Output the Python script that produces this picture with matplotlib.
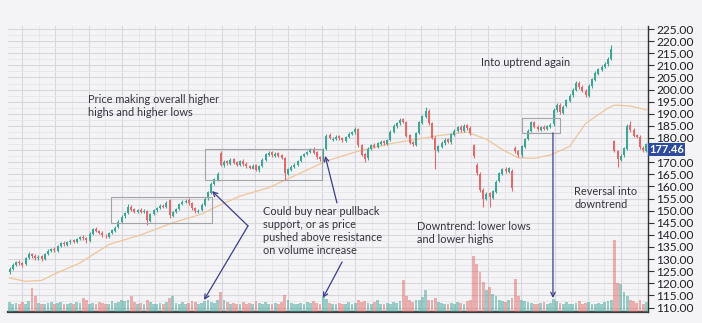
import numpy as np
import matplotlib
matplotlib.use("Agg")
import matplotlib.pyplot as plt
from matplotlib.patches import Rectangle
from matplotlib.ticker import FuncFormatter

# Daily OHLC prices
opens = [
    124.6, 126.0, 127.4, 128.9, 128.3, 127.8, 130.4, 132.1, 131.3, 130.3,
    131.2, 130.1, 132.3, 133.4, 134.2, 133.5, 135.3, 136.7, 136.0, 136.9,
    137.7, 137.1, 138.2, 139.2, 138.8, 137.6, 140.4, 142.5, 141.7, 140.9,
    139.7, 139.3, 140.7, 141.7, 143.1, 145.4, 147.6, 148.9, 151.6, 150.5,
    149.5, 150.3, 149.5, 150.0, 145.8, 148.6, 150.1, 151.1, 152.1, 151.5,
    154.2, 147.8, 149.4, 150.6, 152.7, 153.5, 154.6, 153.1, 151.2, 149.6,
    150.1, 152.4, 155.1, 157.4, 161.1, 162.8, 174.0, 168.8, 170.4, 169.4,
    171.2, 170.0, 168.8, 170.6, 169.4, 168.5, 167.4, 168.8, 166.6, 168.4,
    170.9, 173.0, 174.2, 172.6, 173.7, 172.8, 171.6, 165.3, 166.9, 168.1,
    168.9, 170.3, 172.5, 173.3, 174.1, 175.6, 174.2, 172.2, 171.0, 175.4,
    181.2, 179.2, 179.5, 180.8, 180.0, 178.8, 180.3, 181.6, 182.3, 183.8,
    177.2, 173.4, 171.6, 175.4, 177.2, 176.2, 177.6, 178.7, 177.6, 179.2,
    182.4, 184.8, 186.0, 187.8, 186.6, 181.2, 178.2, 177.2, 182.2, 186.3,
    188.8, 191.2, 186.2, 180.2, 174.8, 176.3, 177.8, 179.4, 178.2, 181.4,
    182.8, 184.7, 183.0, 185.2, 184.2, 177.0, 169.0, 165.2, 158.6, 154.8,
    157.2, 155.3, 157.8, 162.2, 165.3, 167.2, 166.0, 166.5, 176.0, 174.6,
    172.8, 176.3, 179.6, 182.8, 186.6, 184.7, 183.4, 184.6, 183.6, 184.6,
    185.6, 191.4, 193.8, 190.4, 193.2, 195.3, 197.6, 199.8, 202.8, 201.2,
    199.6, 197.4, 201.3, 204.0, 206.6, 208.2, 209.3, 210.4, 212.6, 178.6,
    174.6, 171.0, 172.8, 175.6, 185.4, 183.4, 181.2, 180.6, 176.0, 174.8,
]
highs = [
    126.6, 128.2, 129.4, 129.6, 128.8, 131.0, 132.8, 132.6, 131.9, 131.6,
    131.8, 132.7, 134.0, 134.7, 134.8, 135.8, 137.1, 137.3, 137.6, 138.2,
    138.3, 138.9, 139.7, 139.8, 139.3, 141.0, 143.0, 143.1, 142.2, 141.4,
    140.3, 141.1, 142.3, 143.6, 146.1, 148.0, 149.6, 152.6, 152.3, 151.0,
    150.8, 150.9, 150.5, 150.4, 149.0, 150.8, 151.7, 152.6, 152.8, 153.9,
    154.8, 150.0, 151.1, 153.3, 154.2, 154.8, 155.2, 153.6, 151.7, 150.7,
    153.0, 155.6, 158.1, 161.7, 163.6, 165.8, 174.8, 170.8, 171.0, 171.7,
    171.8, 170.5, 171.0, 171.2, 169.9, 169.0, 169.2, 169.3, 169.0, 171.6,
    173.8, 174.7, 174.8, 174.1, 174.2, 173.3, 172.0, 167.6, 168.8, 169.6,
    171.0, 173.1, 174.0, 174.8, 176.0, 176.2, 174.7, 172.7, 175.8, 181.8,
    181.9, 180.3, 181.2, 181.4, 180.5, 181.0, 182.4, 183.0, 184.4, 184.3,
    177.7, 174.0, 176.1, 177.6, 177.8, 178.4, 179.1, 179.2, 179.6, 183.1,
    185.6, 186.8, 188.3, 188.4, 187.1, 181.7, 178.8, 182.6, 187.1, 189.7,
    193.0, 191.8, 186.7, 180.7, 177.1, 178.6, 179.8, 180.0, 182.1, 183.6,
    185.1, 185.3, 185.6, 185.8, 184.8, 177.6, 169.6, 165.8, 159.2, 157.6,
    157.8, 158.6, 162.6, 166.1, 167.8, 167.9, 168.2, 167.0, 176.6, 175.2,
    177.1, 180.1, 183.6, 187.2, 187.2, 185.3, 185.0, 185.2, 185.4, 186.1,
    192.2, 194.3, 194.4, 193.7, 196.2, 198.2, 200.7, 203.4, 203.4, 201.8,
    200.2, 202.1, 204.9, 207.5, 209.1, 210.1, 211.3, 213.5, 218.4, 179.3,
    175.2, 173.3, 176.4, 185.7, 187.0, 184.0, 181.8, 181.1, 176.6, 178.0,
]
lows = [
    124.0, 125.6, 127.0, 127.6, 126.9, 127.4, 130.0, 130.6, 129.8, 129.7,
    129.4, 129.8, 131.8, 133.0, 133.0, 133.1, 134.8, 135.5, 135.6, 136.4,
    136.7, 136.8, 137.8, 138.0, 136.5, 137.2, 140.0, 141.0, 140.2, 139.2,
    138.6, 138.8, 140.3, 141.2, 142.7, 145.0, 147.1, 148.5, 149.8, 149.0,
    149.0, 149.1, 149.0, 144.0, 145.3, 148.1, 149.6, 150.6, 151.0, 151.0,
    147.0, 147.2, 148.9, 150.2, 152.2, 153.0, 152.5, 150.4, 149.2, 149.0,
    149.7, 152.0, 154.6, 157.0, 160.6, 162.3, 168.4, 168.2, 168.9, 169.0,
    169.2, 168.3, 168.3, 168.6, 167.8, 167.0, 167.0, 166.2, 166.1, 168.0,
    170.4, 172.5, 172.2, 172.1, 172.0, 171.2, 162.6, 164.8, 166.4, 167.6,
    168.4, 169.9, 172.0, 172.8, 173.6, 173.4, 171.4, 170.6, 170.6, 175.0,
    179.4, 178.7, 179.0, 179.2, 178.4, 178.3, 179.8, 181.1, 181.8, 176.4,
    172.4, 170.2, 171.1, 175.0, 175.8, 175.7, 177.1, 177.2, 177.1, 178.8,
    182.0, 184.3, 185.5, 186.2, 180.4, 177.4, 176.6, 176.8, 181.7, 185.8,
    188.3, 185.4, 179.4, 167.0, 174.2, 175.8, 177.3, 177.8, 177.7, 180.9,
    182.3, 182.6, 182.5, 183.4, 181.4, 171.8, 164.8, 157.8, 151.5, 154.2,
    151.5, 154.8, 157.3, 161.7, 164.8, 165.6, 165.5, 158.0, 173.8, 172.3,
    172.2, 175.8, 179.1, 182.3, 184.0, 183.0, 182.9, 183.2, 183.1, 184.1,
    185.1, 190.9, 190.0, 189.9, 192.7, 194.8, 197.1, 199.3, 200.4, 198.8,
    196.9, 196.9, 200.8, 203.5, 206.1, 207.7, 208.8, 209.9, 212.1, 174.1,
    168.0, 170.4, 172.3, 175.1, 182.6, 180.4, 179.8, 175.6, 174.4, 174.2,
]
closes = [
    126.0, 127.5, 128.8, 128.2, 127.6, 130.5, 132.0, 131.2, 130.4, 131.0,
    130.2, 132.2, 133.5, 134.0, 133.6, 135.2, 136.5, 136.1, 137.0, 137.6,
    137.2, 138.3, 139.0, 138.6, 137.8, 140.5, 142.4, 141.6, 140.8, 139.8,
    139.4, 140.6, 141.8, 143.0, 145.5, 147.5, 149.0, 151.5, 150.4, 149.6,
    150.2, 149.6, 149.9, 146.0, 148.5, 150.2, 151.0, 152.0, 151.6, 153.2,
    148.0, 149.5, 150.5, 152.8, 153.6, 154.0, 153.0, 151.0, 149.8, 150.0,
    152.5, 155.0, 157.5, 161.0, 163.0, 165.0, 169.0, 170.2, 169.5, 171.0,
    169.8, 169.0, 170.4, 169.2, 168.4, 167.6, 168.6, 166.8, 168.5, 171.0,
    173.2, 174.0, 172.8, 173.5, 172.6, 171.8, 165.5, 167.0, 168.2, 169.0,
    170.4, 172.6, 173.4, 174.2, 175.4, 174.0, 172.0, 171.2, 175.2, 181.0,
    180.0, 179.6, 180.6, 179.8, 179.0, 180.4, 181.8, 182.4, 183.6, 177.0,
    173.0, 171.5, 175.5, 177.0, 176.4, 177.8, 178.5, 177.8, 179.0, 182.5,
    185.0, 186.2, 187.6, 186.8, 181.0, 178.0, 177.4, 182.0, 186.5, 189.0,
    191.0, 186.0, 180.0, 175.0, 176.5, 178.0, 179.2, 178.4, 181.5, 183.0,
    184.5, 183.2, 185.0, 184.0, 182.0, 172.5, 165.5, 158.5, 155.0, 157.0,
    155.5, 158.0, 162.0, 165.5, 167.0, 166.2, 167.5, 159.5, 174.5, 173.0,
    176.5, 179.5, 183.0, 186.5, 184.6, 183.6, 184.4, 183.8, 184.8, 185.4,
    191.6, 193.6, 190.6, 193.0, 195.5, 197.5, 200.0, 202.6, 201.0, 199.4,
    197.6, 201.5, 204.2, 206.8, 208.4, 209.4, 210.6, 212.8, 216.8, 174.8,
    171.2, 172.6, 175.8, 185.0, 183.2, 181.0, 180.4, 176.2, 175.0, 177.46,
]
# Daily volume (millions of shares)
volumes = [
    25, 20, 22, 18, 24, 20, 26, 58, 38, 22,
    20, 18, 22, 24, 19, 21, 25, 20, 18, 22,
    20, 24, 22, 34, 28, 20, 22, 19, 24, 21,
    18, 20, 26, 22, 24, 30, 26, 28, 38, 24,
    20, 22, 19, 30, 24, 20, 18, 22, 20, 24,
    34, 38, 22, 20, 24, 18, 22, 26, 24, 20,
    22, 26, 30, 24, 22, 28, 50, 30, 24, 20,
    22, 18, 20, 24, 20, 22, 18, 26, 22, 20,
    24, 20, 18, 22, 20, 24, 42, 30, 22, 20,
    18, 22, 20, 24, 22, 26, 22, 20, 38, 32,
    22, 18, 20, 22, 18, 20, 24, 20, 22, 30,
    24, 26, 22, 20, 24, 28, 18, 20, 22, 20,
    24, 22, 26, 78, 40, 30, 24, 28, 30, 36,
    55, 30, 28, 35, 24, 22, 20, 18, 22, 20,
    24, 22, 20, 26, 30, 138, 120, 100, 75, 55,
    62, 45, 38, 30, 26, 24, 28, 34, 82, 40,
    30, 26, 24, 22, 20, 18, 22, 24, 20, 22,
    32, 26, 22, 20, 24, 20, 18, 22, 26, 20,
    22, 24, 20, 18, 22, 20, 24, 26, 30, 180,
    72, 68, 50, 40, 30, 26, 22, 28, 20, 24,
]
# Long moving average (session index, value)
ma_idx = [0, 5, 10, 14, 22, 31, 41, 51, 60, 66, 72, 81, 99, 109, 120,
          128, 134, 143, 149, 154, 159, 164, 169, 175, 180, 187, 189, 194, 199]
ma_vals = [122.2, 120.8, 121.2, 123.8, 128.4, 136.0, 140.0, 145.0, 148.6, 152.5,
           156.0, 159.5, 170.5, 174.6, 177.9, 179.6, 181.0, 182.4, 179.5, 175.2,
           171.8, 171.6, 173.0, 176.5, 186.0, 192.4, 193.6, 193.2, 191.6]
price_ticks = list(range(110, 230, 5))

UP, DOWN = "#3fa597", "#e26a6a"
BG = "#f4f4f6"
GRID_MAJOR, GRID_MINOR = "#d7d7dd", "#e5e5ea"
INK = "#34343f"
ARROW = "#3a3d8c"
BOX = "#a3a3aa"
FONT = ["Lato", "DejaVu Sans"]

o, h, l, c = (np.asarray(a, float) for a in (opens, highs, lows, closes))
n = len(c)
x = np.arange(n)
col = np.where(c >= o, UP, DOWN)

fig = plt.figure(figsize=(7.02, 3.23), dpi=100, facecolor=BG)
W, H = 702, 323
ax = fig.add_axes([8 / W, 1 - 311.5 / H, 640 / W, (311.5 - 26) / H])
ax.set_facecolor(BG)

# grid
ax.set_xticks(np.arange(3.9, n, 10.4))
ax.set_xticks(np.arange(9.1, n, 10.4), minor=True)
ax.set_yticks(price_ticks)
ax.set_yticks([p + 2.5 for p in price_ticks], minor=True)
ax.grid(True, which="major", color=GRID_MAJOR, lw=0.8, zorder=0)
ax.grid(True, which="minor", color=GRID_MINOR, lw=0.6, zorder=0)
ax.set_axisbelow(True)

# candles
ax.vlines(x, l, h, colors=col, lw=0.8, zorder=3)
ax.bar(x, np.maximum(np.abs(c - o), 0.2), bottom=np.minimum(o, c), width=0.62,
       color=col, linewidth=0, zorder=3)

# moving average
ax.plot(ma_idx, ma_vals, color="#efc59c", lw=0.9, zorder=2)

ax.set_xlim(-0.5, n - 0.5)
ax.set_ylim(108.35, 226.25)

# volume pane
axv = ax.twinx()
axv.bar(x, volumes, width=0.92, color=col, alpha=0.5, linewidth=0)
axv.set_ylim(0, 714)
axv.axis("off")

# price axis on the right
ax.yaxis.tick_right()
ax.yaxis.set_major_formatter(FuncFormatter(lambda v, _: "" if abs(v - 175) < 1e-6 else f"{v:.2f}"))
ax.tick_params(axis="x", which="both", length=0, labelbottom=False)
ax.tick_params(axis="y", which="major", right=True, left=False, length=4, width=0.8,
               color="#333333", labelsize=8.6, labelcolor="#1f1f27", pad=2)
ax.tick_params(axis="y", which="minor", length=0)
for lab in ax.get_yticklabels():
    lab.set_family(FONT)
for s in ("left", "top"):
    ax.spines[s].set_visible(False)
ax.spines["right"].set_color("#333333")
ax.spines["right"].set_linewidth(1.0)
ax.spines["bottom"].set_color("#3a3a3a")
ax.spines["bottom"].set_linewidth(1.6)

# last price tag
ax.annotate(f"{closes[-1]:.2f}", xy=(1.0, closes[-1]), xycoords=ax.get_yaxis_transform(),
            xytext=(1.0, -3.6), textcoords="offset points", ha="left", va="center",
            color="white", fontsize=8.0, family=FONT, fontweight="bold",
            bbox=dict(boxstyle="square,pad=0.1", fc="#2d4b9f", ec="none"),
            annotation_clip=False, zorder=10)

# consolidation boxes
for (x0, x1, y0, y1) in [(31.7, 63.25, 144.9, 155.6), (61.1, 97.6, 162.6, 175.4),
                         (160.1, 172.0, 182.1, 188.2)]:
    ax.add_patch(Rectangle((x0, y0), x1 - x0, y1 - y0, fill=False, ec=BOX, lw=0.8, zorder=4))

# arrows
arrow_kw = dict(arrowstyle="->", color=ARROW, lw=0.9, shrinkA=0, shrinkB=0, mutation_scale=8)
for start, tip in [((74.5, 143.7), (63.25, 158.1)),
                   ((74.5, 143.7), (60.75, 113.1)),
                   ((102.3, 153.2), (98.6, 172.6)),
                   ((103.9, 128.8), (97.9, 113.9)),
                   ((169.8, 182.1), (169.8, 113.9))]:
    ax.annotate("", xy=tip, xytext=start, arrowprops=arrow_kw, zorder=5)

# notes
notes = [
    (24.5, 193.4, "Price making overall higher\nhighs and higher lows"),
    (79.2, 141.6, "Could buy near pullback\nsupport, or as price\npushed above resistance\non volume increase"),
    (127.3, 140.6, "Downtrend: lower lows\nand lower highs"),
    (147.3, 211.0, "Into uptrend again"),
    (176.5, 155.1, "Reversal into\ndowntrend"),
]
for tx, ty, s in notes:
    ax.text(tx, ty, s, ha="left", va="center", fontsize=7.9, color=INK, family=FONT,
            linespacing=1.22, zorder=6)

fig.savefig("out.png", dpi=100, facecolor=BG)
